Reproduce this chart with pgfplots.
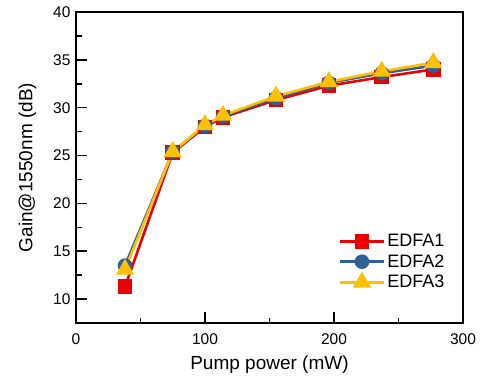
\documentclass[border=0pt]{standalone}
\usepackage{pgfplots}
\pgfplotsset{compat=1.18}
\usepackage{fontspec}
\setmainfont{Liberation Sans}
\definecolor{cred}{RGB}{235,0,0}
\definecolor{cblue}{RGB}{46,95,150}
\definecolor{cyel}{RGB}{255,192,0}
\begin{document}
\begin{tikzpicture}
\begin{axis}[
  scale only axis, width=387bp, height=311bp,
  at={(0,0)}, anchor=south west,
  xmin=0, xmax=300, ymin=7.5, ymax=40,
  xtick={0,100,200,300}, ytick={10,15,20,25,30,35,40},
  minor xtick={50,150,250}, minor ytick={12.5,17.5,22.5,27.5,32.5,37.5},
  tick align=inside, xtick pos=bottom, ytick pos=left,
  major tick length=11bp, minor tick length=5.5bp,
  every tick/.style={line width=1.6bp, black},
  axis line style={line width=1.6bp},
  /pgf/number format/assume math mode=true,
  tick label style={font=\fontsize{15.5bp}{18bp}\selectfont},
  xticklabel style={yshift=-7bp},
  yticklabel style={xshift=-2bp},
  label style={font=\fontsize{19bp}{22bp}\selectfont},
  xlabel={Pump power (mW)}, ylabel={Gain@1550nm (dB)},
  xlabel style={yshift=-4bp}, ylabel style={yshift=10bp},
  legend style={draw=none, fill=none, font=\fontsize{18bp}{21bp}\selectfont,
    at={(0.965,0.095)}, anchor=south east, row sep=2.5bp,
    /tikz/every even column/.append style={column sep=2bp}},
  legend cell align=left,
  legend image code/.code={\draw[#1] (0bp,0bp) -- (22bp,0bp) plot coordinates {(22bp,0bp)} -- (44bp,0bp);},
]
\addplot[cred, line width=2.6bp, mark=square*, mark size=6bp, mark options={solid}] coordinates {
(38,11.3) (75,25.3) (100,28.0) (114,29.0) (155,30.8) (196,32.3) (237,33.2) (277,34.0)};
\addlegendentry{EDFA1}
\addplot[cblue, line width=2.6bp, mark=*, mark size=6bp, mark options={solid}] coordinates {
(38,13.5) (75,25.4) (100,28.1) (114,29.1) (155,31.0) (196,32.6) (237,33.6) (277,34.4)};
\addlegendentry{EDFA2}
\addplot[cyel, line width=2.6bp, mark=triangle*, mark size=8bp, mark options={solid}] coordinates {
(38,13.1) (75,25.4) (100,28.2) (114,29.2) (155,31.2) (196,32.7) (237,33.8) (277,34.7)};
\addlegendentry{EDFA3}
\end{axis}
\pgfresetboundingbox
\path (-76bp,-57bp) rectangle (406bp,323bp);
\end{tikzpicture}
\end{document}
